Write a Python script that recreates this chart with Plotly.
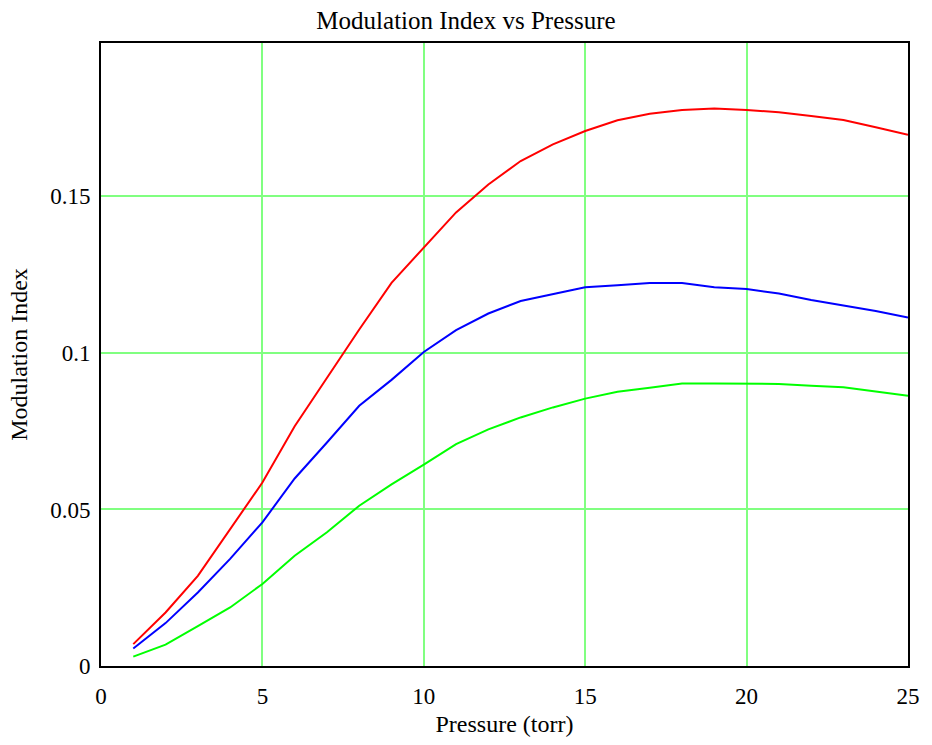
import plotly.graph_objects as go

pressure = list(range(1, 26))
red_series = [0.0070, 0.0171, 0.0288, 0.0437, 0.0586, 0.0766, 0.0920, 0.1075, 0.1224, 0.1337,
              0.1449, 0.1538, 0.1613, 0.1666, 0.1709, 0.1743, 0.1764, 0.1776, 0.1781, 0.1776,
              0.1769, 0.1757, 0.1744, 0.1721, 0.1697]
blue_series = [0.0056, 0.0137, 0.0235, 0.0342, 0.0459, 0.0599, 0.0714, 0.0831, 0.0914, 0.1003,
               0.1073, 0.1126, 0.1166, 0.1189, 0.1210, 0.1216, 0.1223, 0.1223, 0.1210, 0.1204,
               0.1190, 0.1169, 0.1152, 0.1134, 0.1113]
green_series = [0.0030, 0.0068, 0.0127, 0.0187, 0.0262, 0.0352, 0.0427, 0.0512, 0.0580, 0.0643,
                0.0709, 0.0756, 0.0794, 0.0826, 0.0854, 0.0876, 0.0889, 0.0902, 0.0902, 0.0902,
                0.0901, 0.0895, 0.0890, 0.0877, 0.0863]
x_ticks = [0, 5, 10, 15, 20, 25]
y_ticks = [0, 0.05, 0.1, 0.15]
y_tick_text = ["0", "0.05", "0.1", "0.15"]

font = "Liberation Serif, Times New Roman, serif"
tick_font = dict(family=font, size=23, color="black")
axis_title_font = dict(family=font, size=24, color="black")
fig = go.Figure()
for ys, col in [(red_series, "#ff0000"), (blue_series, "#0000ff"), (green_series, "#00ff00")]:
    fig.add_trace(go.Scatter(x=pressure, y=ys, mode="lines",
                             line=dict(color=col, width=2), showlegend=False))

fig.update_layout(
    width=932, height=745,
    margin=dict(l=101, r=21, t=43, b=77),
    paper_bgcolor="white", plot_bgcolor="white",
    font=dict(family=font, size=21, color="black"),
    title=dict(text="Modulation Index vs Pressure", x=0.5, xanchor="center",
               y=1 - 20 / 745, yanchor="middle", font=dict(family=font, size=25, color="black")),
)
fig.update_xaxes(range=[0, 25], tickvals=x_ticks, ticks="", showline=True, linecolor="black",
                 linewidth=2, mirror=True, showgrid=True, gridcolor="#80ff80", gridwidth=2,
                 zeroline=False, ticklabelstandoff=8, tickfont=tick_font,
                 title=dict(text="Pressure (torr)", standoff=8, font=axis_title_font))
fig.update_yaxes(range=[0, 0.199], tickvals=y_ticks, ticktext=y_tick_text, ticks="",
                 showline=True, linecolor="black", linewidth=2, mirror=True, showgrid=True,
                 gridcolor="#80ff80", gridwidth=2, zeroline=False, ticklabelstandoff=4,
                 tickfont=tick_font,
                 title=dict(text="Modulation Index", standoff=16, font=axis_title_font))
fig.write_html("out.html")
